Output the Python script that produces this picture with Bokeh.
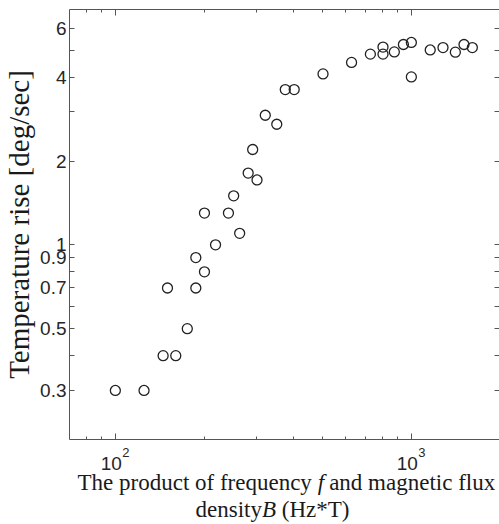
from bokeh.plotting import figure
from bokeh.models import FixedTicker, LogAxis, Label
from bokeh.layouts import column
from bokeh.embed import file_html
from bokeh.resources import INLINE

# data
fb = [100, 125, 145, 160, 150, 187, 175, 187, 200, 218,
      200, 241, 263, 251, 281, 301, 291, 321, 351, 375,
      402, 503, 628, 727, 802, 802, 876, 940, 1000, 1000,
      1158, 1279, 1408, 1506, 1607]
temp_rise = [0.30, 0.30, 0.40, 0.40, 0.70, 0.70, 0.50, 0.90, 0.80, 1.00,
             1.30, 1.30, 1.10, 1.50, 1.81, 1.71, 2.20, 2.92, 2.71, 3.61,
             3.61, 4.11, 4.52, 4.84, 4.84, 5.13, 4.93, 5.24, 5.33, 4.01,
             5.01, 5.11, 4.92, 5.24, 5.11]

y_ticks = [0.3, 0.4, 0.5, 0.6, 0.7, 0.8, 0.9, 1, 2, 3, 4, 5, 6]
y_tick_labels = ["0.3", " ", "0.5", " ", "0.7", " ", "0.9", "1", "2", " ", "4", " ", "6"]
x_major = [100, 1000]
x_minor = [80, 90, 200, 300, 400, 500, 600, 700, 800, 900, 2000]
x_tick_base = ["10", "10"]
x_tick_exp = ["2", "3"]
y_title = "Temperature rise [deg/sec]"
x_title_line1 = ["The product of frequency", "f", "and magnetic flux"]
x_title_line2 = ["density", "B", "(Hz*T)"]

X_RANGE = (70, 1985)
AX = "#555555"
TXT = "#262626"
TITLE_C = "#1a1a1a"

p = figure(width=499, height=441, x_axis_type="log", y_axis_type="log",
           x_range=X_RANGE, y_range=(0.2, 7),
           output_backend="svg", toolbar_location=None,
           min_border_left=69, min_border_right=0, min_border_top=9, min_border_bottom=2)
p.outline_line_color = None
p.xgrid.visible = False
p.ygrid.visible = False


def style(ax, ticker, labels):
    ax.ticker = ticker
    ax.axis_line_color = AX
    ax.major_tick_line_color = AX
    ax.minor_tick_line_color = AX
    ax.major_tick_out = 0
    ax.minor_tick_out = 0
    if labels:
        ax.major_label_text_font = "Liberation Sans"
        ax.major_label_text_font_size = "19px"
        ax.major_label_text_color = TXT
        ax.major_label_standoff = 3
    else:
        ax.major_label_text_font_size = "1px"
        ax.major_label_text_color = None
        ax.major_label_standoff = 0


left = p.yaxis[0]
style(left, FixedTicker(ticks=y_ticks, minor_ticks=[]), True)
left.major_tick_in = 5
left.major_label_overrides = {t: l for t, l in zip(y_ticks, y_tick_labels)}
left.axis_label = y_title
left.axis_label_text_font = "Liberation Serif"
left.axis_label_text_font_size = "29px"
left.axis_label_text_font_style = "normal"
left.axis_label_text_color = TITLE_C
left.axis_label_standoff = 2

bottom = p.xaxis[0]
style(bottom, FixedTicker(ticks=x_major, minor_ticks=x_minor), False)
bottom.major_tick_in = 6
bottom.minor_tick_in = 3

right = LogAxis()
style(right, FixedTicker(ticks=y_ticks, minor_ticks=[]), False)
right.major_tick_in = 5
p.add_layout(right, "right")

top = LogAxis()
style(top, FixedTicker(ticks=x_major, minor_ticks=x_minor), False)
top.major_tick_in = 6
top.minor_tick_in = 3
p.add_layout(top, "above")

p.scatter(fb, temp_rise, marker="circle", size=10, fill_color=None,
          line_color="#222222", line_width=1.3)

# lower strip: x tick labels and x axis title, sharing the same x scale
H2 = 83
p2 = figure(width=499, height=H2, x_axis_type="log", x_range=X_RANGE, y_range=(0, H2),
            output_backend="svg", toolbar_location=None,
            x_axis_location=None, y_axis_location=None,
            min_border_left=69, min_border_right=0, min_border_top=0, min_border_bottom=0)
p2.outline_line_color = None
p2.xgrid.visible = False
p2.ygrid.visible = False

for xv, b, e in zip(x_major, x_tick_base, x_tick_exp):
    p2.add_layout(Label(x=xv, y=61, text=b, x_offset=-4,
                        text_align="center", text_baseline="alphabetic",
                        text_font="Liberation Sans", text_font_size="19px", text_color=TXT))
    p2.add_layout(Label(x=xv, y=72, text=e, x_offset=7,
                        text_align="left", text_baseline="alphabetic",
                        text_font="Liberation Sans", text_font_size="13px", text_color=TXT))

FS = 23
def seg(x, y, text, italic=False):
    p2.add_layout(Label(x=x - 69, y=y, x_units="screen", y_units="data", text=text,
                        text_align="left", text_baseline="alphabetic",
                        text_font="Liberation Serif", text_font_size=f"{FS}px",
                        text_font_style="italic" if italic else "normal",
                        text_color=TITLE_C))

x0 = 77
seg(x0, 42, x_title_line1[0])
xf = x0 + 10.441 * FS
seg(xf, 42, x_title_line1[1], True)
seg(xf + 0.50 * FS, 42, x_title_line1[2])
x1 = 195
seg(x1, 15, x_title_line2[0])
xb = x1 + 2.889 * FS
seg(xb, 15, x_title_line2[1], True)
seg(xb + 0.86 * FS, 15, x_title_line2[2])

layout = column(p, p2, spacing=0)
open("out.html", "w").write(file_html(layout, INLINE))
